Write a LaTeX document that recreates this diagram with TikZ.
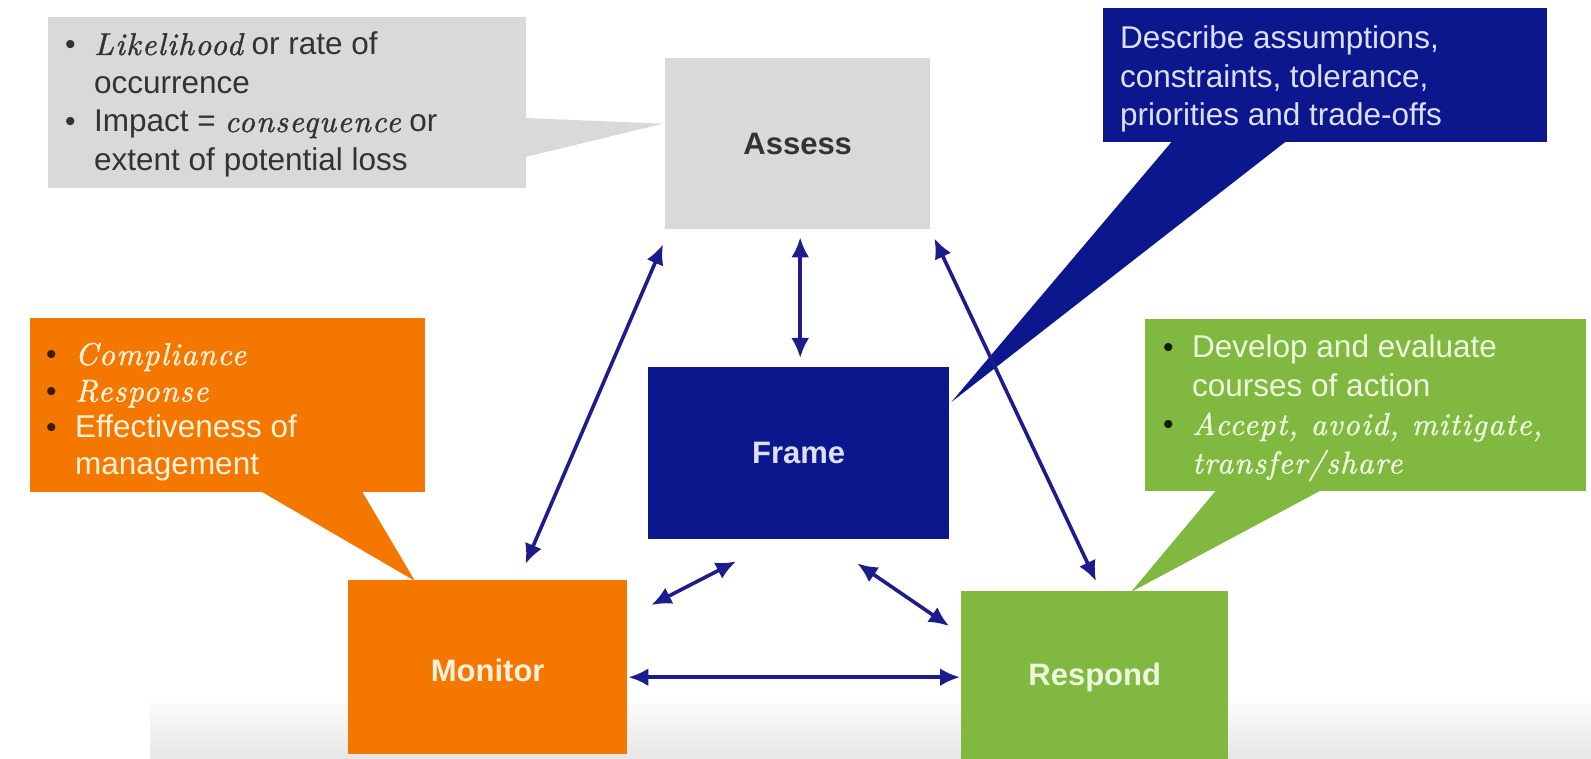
\documentclass[tikz,border=0pt]{standalone}
\usepackage{fontspec}
\setsansfont{Liberation Sans}
\newfontfamily\itserif{lmroman10-italic}[Extension=.otf, LetterSpace=4, FakeBold=1.2]
\usetikzlibrary{arrows.meta,calc}
\definecolor{callgrey}{HTML}{D9D9D9}
\definecolor{navyc}{HTML}{0C178E}
\definecolor{orng}{HTML}{F47800}
\definecolor{grn}{HTML}{80B840}
\definecolor{arrowc}{HTML}{1C1C8C}
\definecolor{greytxt}{HTML}{333333}
\definecolor{navytxt}{HTML}{DCE0FA}
\definecolor{orngtxt}{HTML}{FFF1DC}
\definecolor{grntxt}{HTML}{ECF8DE}
\newcommand\bul[1][black]{\makebox[29pt][l]{\color{#1}\fontsize{30}{30}\selectfont\textbullet}}
\newcommand\nob{\hspace*{29pt}}
\newcommand\iw[1]{{\itserif #1}}
\tikzset{
  boxc/.style={rectangle, inner sep=0pt, anchor=north west},
  lbl/.style={font=\sffamily\bfseries\fontsize{31}{36}\selectfont},
  txt/.style={anchor=base west, inner sep=0pt, font=\sffamily\fontsize{31.5}{38.5}\selectfont},
  biarrow/.style={draw=arrowc, line width=3.6pt, {Latex[length=20pt,width=18pt]}-{Latex[length=20pt,width=18pt]}}
}
\begin{document}
\begin{tikzpicture}[x=1pt,y=-1pt]
\useasboundingbox (0,0) rectangle (1591,759);
\fill[white] (0,0) rectangle (1591,759);
\shade[top color=white, bottom color=black!10] (150,695) rectangle (1591,759);

% callout boxes
\node[boxc, fill=callgrey, minimum width=478pt, minimum height=171pt] (gcall) at (48,17) {};
\node[boxc, fill=navyc, minimum width=444pt, minimum height=134pt] (ncall) at (1103,8) {};
\node[boxc, fill=orng, minimum width=395pt, minimum height=174pt] (ocall) at (30,318) {};
\node[boxc, fill=grn, minimum width=441pt, minimum height=172pt] (gncall) at (1145,319) {};

% main boxes
\node[boxc, fill=callgrey, minimum width=265pt, minimum height=171pt] (assess) at (665,58) {};
\node[boxc, fill=navyc, minimum width=301pt, minimum height=172pt] (frame) at (648,367) {};
\node[boxc, fill=orng, minimum width=279pt, minimum height=174pt] (monitor) at (348,580) {};
\node[boxc, fill=grn, minimum width=267pt, minimum height=168pt] (respond) at (961,591) {};

% callout pointers
\fill[callgrey] ($(gcall.north east)+(-1,101)$) -- ($(gcall.north east)+(-1,140)$) -- ($(assess.west)+(-2,-20)$) -- cycle;
\fill[navyc] ($(ncall.south west)+(69,-1)$) -- ($(ncall.south west)+(183,-1)$) -- ($(frame.north east)+(2,35)$) -- cycle;
\fill[orng] ($(ocall.south west)+(231,-1)$) -- ($(ocall.south west)+(332,-1)$) -- ($(monitor.north west)+(67,1)$) -- cycle;
\fill[grn] ($(gncall.south west)+(71,-1)$) -- ($(gncall.south west)+(176,-1)$) -- ($(respond.north west)+(170,1)$) -- cycle;

% labels
\node[lbl, text=greytxt] (assesslbl) at (assess.center) {Assess};
\node[lbl, text=navytxt] (framelbl) at (frame.center) {Frame};
\node[lbl, text=orngtxt] (monitorlbl) at ($(monitor.center)+(0,3)$) {Monitor};
\node[lbl, text=grntxt] (respondlbl) at ($(respond.center)+(0,2)$) {Respond};

% callout texts
\node[txt, text=greytxt] (gtext) at (65,55) {\begin{tabular}[t]{@{}l@{}}
\bul[greytxt]\iw{Likelihood} or rate of\\
\nob occurrence\\
\bul[greytxt]Impact = \iw{consequence} or\\
\nob extent of potential loss
\end{tabular}};
\node[txt, text=navytxt] (ntext) at (1120,49) {\begin{tabular}[t]{@{}l@{}}
Describe assumptions,\\
constraints, tolerance,\\
priorities and trade-offs
\end{tabular}};
\node[txt, text=orngtxt, font=\sffamily\fontsize{31.5}{36.5}\selectfont] (otext) at (46,365) {\begin{tabular}[t]{@{}l@{}}
\bul[black!75!orng]\iw{Compliance}\\
\bul[black!75!orng]\iw{Response}\\
\bul[black!75!orng]Effectiveness of\\
\nob management
\end{tabular}};
\node[txt, text=grntxt] (gntext) at (1163,358) {\begin{tabular}[t]{@{}l@{}}
\bul[black!85!grn]Develop and evaluate\\
\nob courses of action\\
\bul[black!85!grn]\iw{Accept, avoid, mitigate,}\\
\nob\iw{transfer/share}
\end{tabular}};

% connectors
\draw[biarrow] ($(assess.south west)+(-2,15)$) -- ($(monitor.north east)+(-102,-16)$);
\draw[biarrow] ($(assess.south)+(2.5,8)$) -- ($(frame.north)+(1.5,-9)$);
\draw[biarrow] ($(assess.south east)+(4,9)$) -- ($(respond.north west)+(135,-10)$);
\draw[biarrow] ($(frame.south west)+(88,22)$) -- ($(monitor.north east)+(24,25)$);
\draw[biarrow] ($(frame.south east)+(-92,24)$) -- ($(respond.north west)+(-12,35)$);
\draw[biarrow] ($(monitor.east)+(1,10)$) -- ($(respond.west)+(-1,2)$);
\end{tikzpicture}
\end{document}
